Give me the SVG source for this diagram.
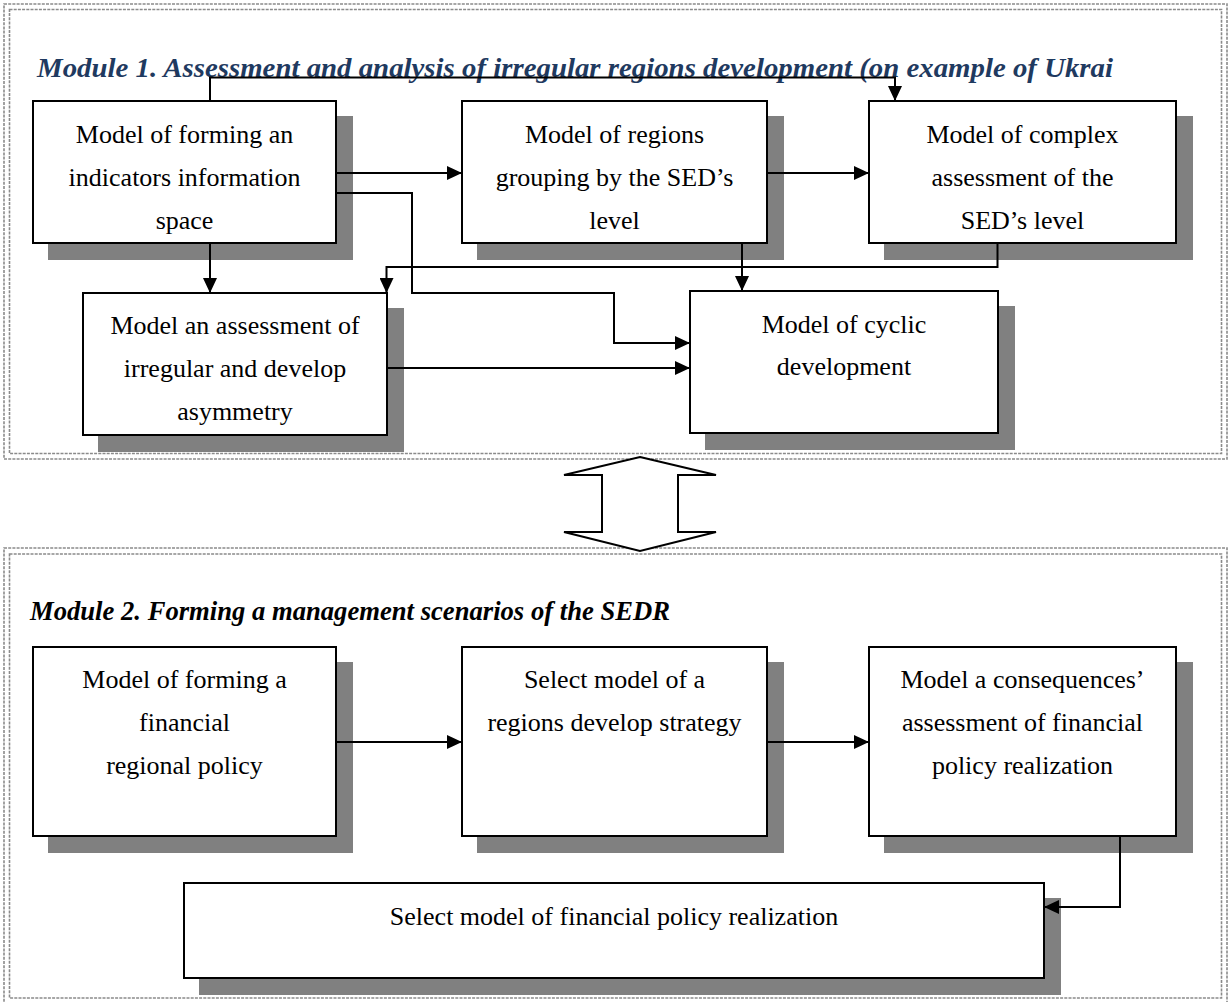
<svg xmlns="http://www.w3.org/2000/svg" width="1231" height="1002" viewBox="0 0 1231 1002">
<defs>
<style>
.frame{fill:none;stroke:#8a8a8a;stroke-width:1.6;stroke-dasharray:3 1.2}
.box{fill:#fff;stroke:#000;stroke-width:2}
.shadow{fill:#808080}
.t{font-family:"Liberation Serif","Times New Roman",serif;font-size:26px;fill:#000;text-anchor:middle}
.c{fill:none;stroke:#000;stroke-width:2}
.title1{font-family:"Liberation Serif","DejaVu Serif",serif;font-weight:bold;font-style:italic;font-size:27px;fill:#1f3a60}
.title2{font-family:"Liberation Serif","Times New Roman",serif;font-weight:bold;font-style:italic;font-size:26.5px;fill:#000}
</style>
<marker id="arr" markerWidth="16" markerHeight="14" refX="15" refY="7" orient="auto" markerUnits="userSpaceOnUse">
<path d="M0,0 L15,7 L0,14 Z" fill="#000"/>
</marker>
</defs>
<rect width="1231" height="1002" fill="#fff"/>

<!-- module frames -->
<g id="module1-frame">
<rect class="frame" x="4" y="4" width="1223" height="455"/>
<rect class="frame" x="9.5" y="9.5" width="1212" height="444"/>
</g>
<g id="module2-frame">
<rect class="frame" x="4" y="548" width="1223" height="455"/>
<rect class="frame" x="9.5" y="554" width="1212" height="444"/>
</g>

<text class="title1" x="37" y="77" textLength="1076" lengthAdjust="spacingAndGlyphs">Module 1. Assessment and analysis of irregular regions development (on example of Ukrai</text>
<text class="title2" x="30" y="620" textLength="640" lengthAdjust="spacingAndGlyphs">Module 2. Forming a management scenarios of the SEDR</text>

<!-- Module 1 nodes -->
<g id="m1-info-space">
<rect class="shadow" x="48" y="116" width="305" height="144"/>
<rect class="box" x="33" y="101" width="303" height="142"/>
<text class="t" x="184.5" y="143">Model of forming an</text>
<text class="t" x="184.5" y="186">indicators information</text>
<text class="t" x="184.5" y="229">space</text>
</g>
<g id="m1-grouping">
<rect class="shadow" x="477" y="116" width="307" height="144"/>
<rect class="box" x="462" y="101" width="305" height="142"/>
<text class="t" x="614.5" y="143">Model of regions</text>
<text class="t" x="614.5" y="186">grouping by the SED’s</text>
<text class="t" x="614.5" y="229">level</text>
</g>
<g id="m1-complex">
<rect class="shadow" x="884" y="116" width="309" height="144"/>
<rect class="box" x="869" y="101" width="307" height="142"/>
<text class="t" x="1022.5" y="143">Model of complex</text>
<text class="t" x="1022.5" y="186">assessment of the</text>
<text class="t" x="1022.5" y="229">SED’s level</text>
</g>
<g id="m1-asymmetry">
<rect class="shadow" x="98" y="308" width="306" height="144"/>
<rect class="box" x="83" y="293" width="304" height="142"/>
<text class="t" x="235" y="334">Model an assessment of</text>
<text class="t" x="235" y="377">irregular and develop</text>
<text class="t" x="235" y="420">asymmetry</text>
</g>
<g id="m1-cyclic">
<rect class="shadow" x="705" y="306" width="310" height="144"/>
<rect class="box" x="690" y="291" width="308" height="142"/>
<text class="t" x="844" y="333">Model of cyclic</text>
<text class="t" x="844" y="375">development</text>
</g>

<!-- Module 2 nodes -->
<g id="m2-financial-policy">
<rect class="shadow" x="48" y="662" width="305" height="191"/>
<rect class="box" x="33" y="647" width="303" height="189"/>
<text class="t" x="184.5" y="688">Model of forming a</text>
<text class="t" x="184.5" y="731">financial</text>
<text class="t" x="184.5" y="774">regional policy</text>
</g>
<g id="m2-strategy">
<rect class="shadow" x="477" y="662" width="307" height="191"/>
<rect class="box" x="462" y="647" width="305" height="189"/>
<text class="t" x="614.5" y="688">Select model of a</text>
<text class="t" x="614.5" y="731">regions develop strategy</text>
</g>
<g id="m2-consequences">
<rect class="shadow" x="884" y="662" width="309" height="191"/>
<rect class="box" x="869" y="647" width="307" height="189"/>
<text class="t" x="1022.5" y="688">Model a consequences’</text>
<text class="t" x="1022.5" y="731">assessment of financial</text>
<text class="t" x="1022.5" y="774">policy realization</text>
</g>
<g id="m2-realization">
<rect class="shadow" x="199" y="898" width="862" height="97"/>
<rect class="box" x="184" y="883" width="860" height="95"/>
<text class="t" x="614" y="925">Select model of financial policy realization</text>
</g>

<!-- double block arrow between modules -->
<g id="link-modules">
<polygon points="640,457 716,475 678,475 678,532 716,532 640,551 564,532 602,532 602,475 564,475" fill="#fff" stroke="#000" stroke-width="2" stroke-linejoin="miter"/>
</g>

<!-- connectors -->
<g id="connectors">
<polyline class="c" points="210,101 210,77.5 895,77.5 895,101" marker-end="url(#arr)"/>
<line class="c" x1="336" y1="173" x2="462" y2="173" marker-end="url(#arr)"/>
<line class="c" x1="767" y1="173" x2="869" y2="173" marker-end="url(#arr)"/>
<polyline class="c" points="336,193 412,193 412,293 614,293 614,343 690,343" marker-end="url(#arr)"/>
<line class="c" x1="210" y1="243" x2="210" y2="293" marker-end="url(#arr)"/>
<polyline class="c" points="997.5,243 997.5,267 386.5,267 386.5,293" marker-end="url(#arr)"/>
<line class="c" x1="742" y1="243" x2="742" y2="291" marker-end="url(#arr)"/>
<line class="c" x1="387" y1="368" x2="690" y2="368" marker-end="url(#arr)"/>
<line class="c" x1="336" y1="742" x2="462" y2="742" marker-end="url(#arr)"/>
<line class="c" x1="767" y1="742" x2="869" y2="742" marker-end="url(#arr)"/>
<polyline class="c" points="1120,836 1120,907 1044,907" marker-end="url(#arr)"/>
</g>
</svg>
